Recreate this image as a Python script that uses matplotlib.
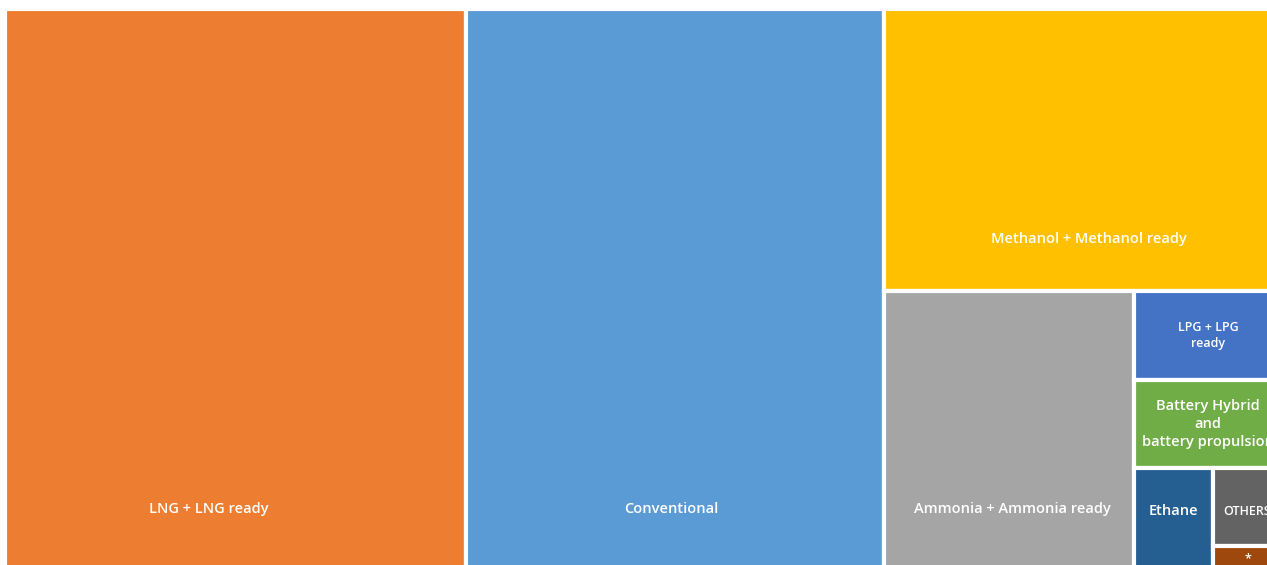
import matplotlib
matplotlib.use("Agg")
import matplotlib.pyplot as plt
from matplotlib.patches import Rectangle

# Share of ships by fuel type (%)
fuels = ["LNG + LNG ready", "Conventional", "Methanol + Methanol ready",
         "Ammonia + Ammonia ready", "LPG + LPG\nready",
         "Battery Hybrid\nand\nbattery propulsion", "Ethane", "OTHERS", "*"]
shares = [36.1, 32.7, 15.6, 9.8, 1.85, 1.8, 1.15, 0.75, 0.25]

colors = ["#ED7D31", "#5B9BD5", "#FFC000", "#A5A5A5", "#4472C4",
          "#70AD47", "#255E91", "#636363", "#9E480E"]
label_sizes = [10.5, 10.5, 10.5, 10.5, 9, 10.5, 10.5, 9, 9]
# some labels sit near the tile's bottom edge (distance in px) instead of centred
label_drop = {0: 63, 1: 63, 2: 51, 3: 63, 6: 61, 7: 34}
label_shift = {0: -27, 1: -4, 2: 6, 3: 4}

W, H = 1277.0, 563.0


def worst(row, length):
    s = sum(row)
    return max(max(length ** 2 * r / s ** 2, s ** 2 / (length ** 2 * r)) for r in row)


def squarify(values, x, y, w, h):
    total = sum(values)
    areas = [v * w * h / total for v in values]
    rects = []
    while areas:
        length = min(w, h)
        row = [areas[0]]
        i = 1
        while i < len(areas) and worst(row + [areas[i]], length) <= worst(row, length):
            row.append(areas[i])
            i += 1
        s = sum(row)
        if w >= h:
            cw = s / h
            yy = y
            for a in row:
                rh = a / cw
                rects.append((x, yy, cw, rh))
                yy += rh
            x += cw
            w -= cw
        else:
            rh = s / w
            xx = x
            for a in row:
                cw = a / rh
                rects.append((xx, y, cw, rh))
                xx += cw
            y += rh
            h -= rh
        areas = areas[i:]
    return rects


fig = plt.figure(figsize=(12.67, 5.65), dpi=100)
ax = fig.add_axes([5 / 1267, -7 / 565, W / 1267, H / 565])
ax.set_xlim(0, W)
ax.set_ylim(H, 0)
ax.axis("off")

for i, (x, y, w, h) in enumerate(squarify(shares, 0, 0, W, H)):
    ax.add_patch(Rectangle((x, y), w, h, facecolor=colors[i],
                           edgecolor="white", linewidth=3))
    ly = y + h - label_drop[i] if i in label_drop else y + h / 2
    lx = x + w / 2 + label_shift.get(i, 0)
    ax.text(lx, ly, fuels[i], ha="center", va="center",
            color="white", fontsize=label_sizes[i], fontweight="semibold",
            family="Open Sans", linespacing=1.35, clip_on=False)

fig.savefig("out.png", dpi=100)
